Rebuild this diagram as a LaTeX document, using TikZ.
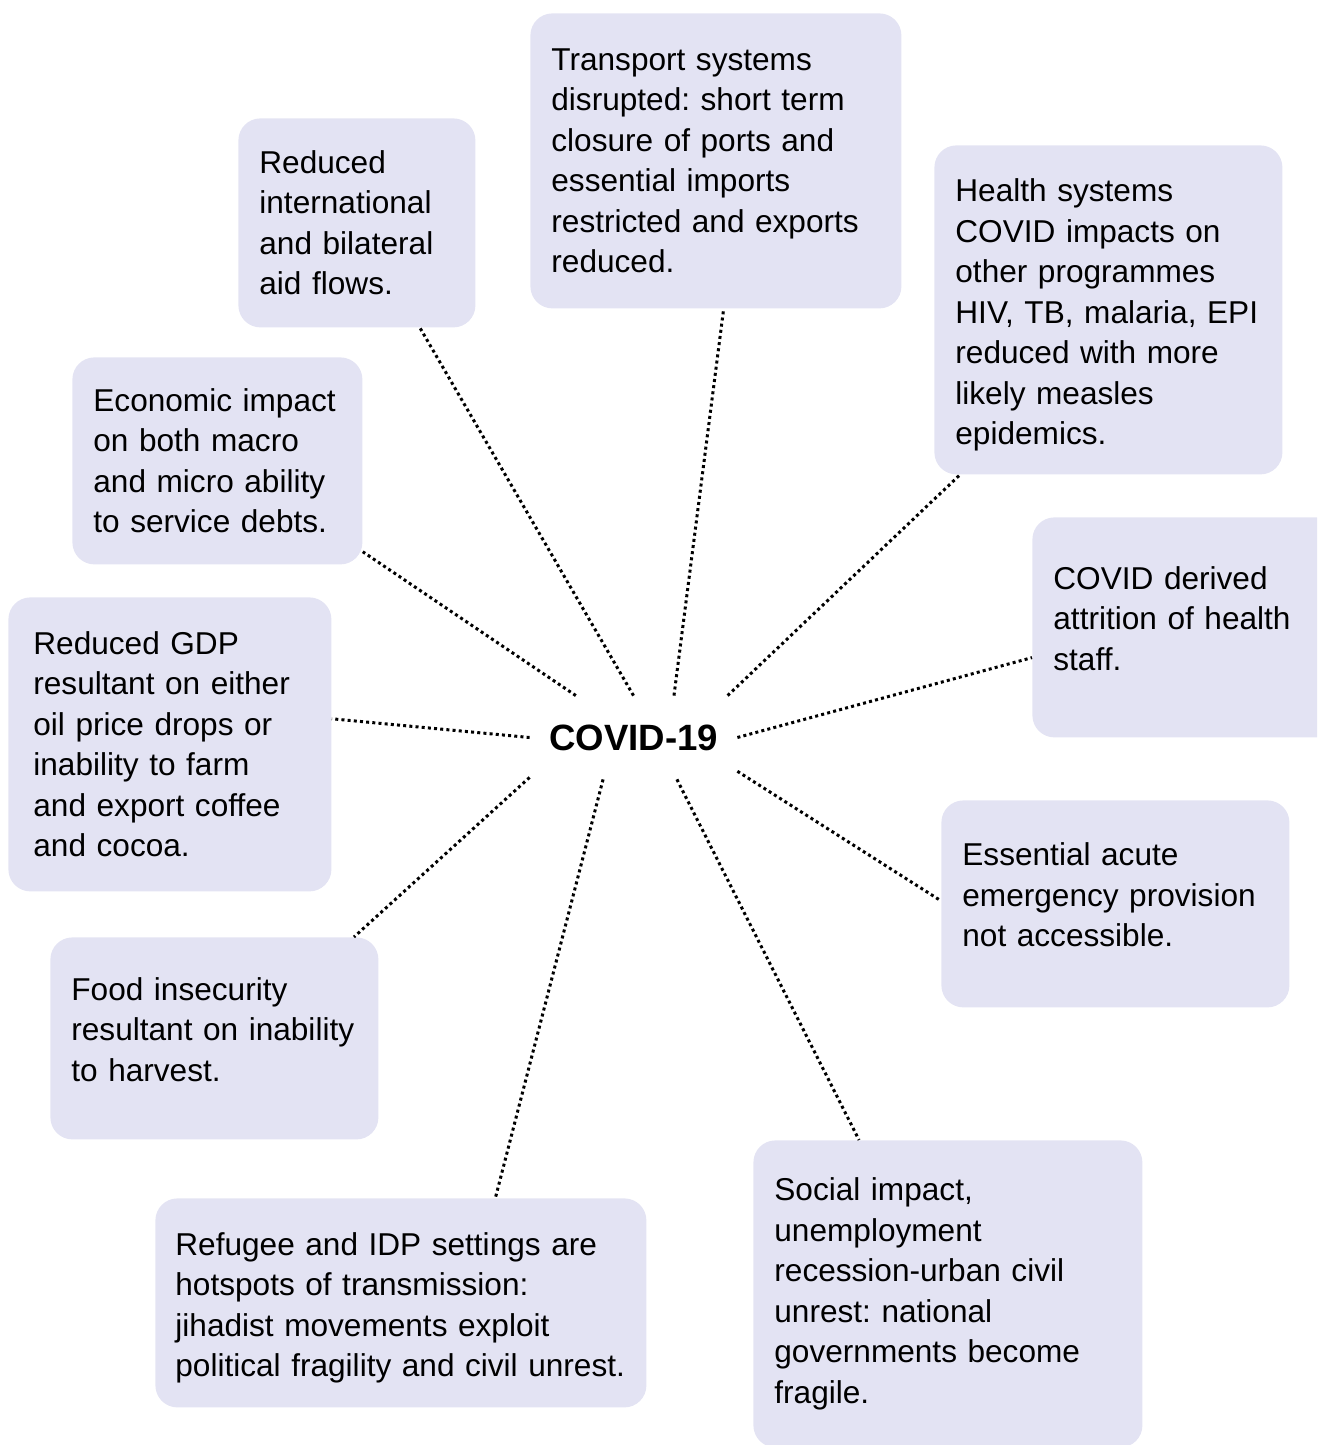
\documentclass[tikz,border=0pt]{standalone}
\usepackage{fontspec}
\setmainfont{Liberation Sans}
\frenchspacing
\hyphenpenalty=10000
\definecolor{cardfill}{RGB}{227,227,243}
\newcommand\lowpad{\rule[-9pt]{0pt}{9pt}}
\newcommand\toppad{\rule{0pt}{16.5pt}}
\tikzset{
	card/.style={rectangle, anchor=north west, rounded corners=11pt, fill=cardfill, align=left, inner xsep=10.5pt, inner ysep=0pt, font=\fontsize{15.8pt}{20.25pt}\selectfont},
	link/.style={line width=1.5pt, dash pattern=on 1.5pt off 1.6pt}
}
\begin{document}
\begin{tikzpicture}[x=0.5pt, y=-0.5pt]
	\useasboundingbox (0,0) rectangle (1317,1445);
	\clip (0,0) rectangle (1317,1445);
	
	% boxes, placed by their top left corner
	\node[card, minimum width=185.5pt, minimum height=147.5pt, text width=164.5pt] (trans) at (530,13)
		{Transport systems\\disrupted: short term\\closure of ports and\\essential imports\\restricted and exports\\reduced.};
	\node[card, minimum width=118.5pt, minimum height=104.5pt, text width=97.5pt] (aid) at (238,118)
		{Reduced\\international\\and bilateral\\aid flows.};
	\node[card, minimum width=174pt, minimum height=164.5pt, text width=153pt] (health) at (934,145)
		{\toppad Health systems\\COVID impacts on\\other programmes\\HIV, TB, malaria, EPI\\reduced with more\\likely measles\\epidemics.};
	\node[card, minimum width=145pt, minimum height=103.5pt, text width=124pt] (econ) at (72,357)
		{Economic impact\\on both macro\\and micro ability\\to service debts.};
	\node[card, minimum width=155pt, minimum height=110pt, text width=134pt] (staff) at (1032,517)
		{COVID derived\\attrition of health\\staff.\lowpad};
	\node[card, inner xsep=12.5pt, minimum width=161.5pt, minimum height=147pt, text width=136.5pt] (gdp) at (8,597)
		{Reduced GDP\\resultant on either\\oil price drops or\\inability to farm\\and export coffee\\and cocoa.};
	\node[card, minimum width=174pt, minimum height=103.5pt, text width=153pt] (acute) at (941,800)
		{Essential acute\\emergency provision\\not accessible.\lowpad};
	\node[card, minimum width=164pt, minimum height=101pt, text width=143pt] (food) at (50,937)
		{Food insecurity\\resultant on inability\\to harvest.\lowpad};
	\node[card, inner xsep=10pt, minimum width=245.5pt, minimum height=104.5pt, text width=225.5pt] (refugee) at (155,1198)
		{\toppad Refugee and IDP settings are\\hotspots of transmission:\\jihadist movements exploit\\political fragility and civil unrest.};
	\node[card, minimum width=194.5pt, minimum height=153.5pt, text width=173.5pt] (social) at (753,1140)
		{Social impact,\\unemployment\\recession-urban civil\\unrest: national\\governments become\\fragile.};
	
	% centre
	\node[minimum width=103.5pt, minimum height=41.5pt, inner sep=0pt, font=\fontsize{18.3pt}{21pt}\selectfont\bfseries] (covid) at (633.5,737.5) {COVID-19};
	
	\foreach \s/\t in {144/econ.328, 90/aid.301, 46/trans.273, 24/health.228, 180/gdp.9, 0/staff.191, 201/food.36, 234/refugee.48, 316/social.120, 342/acute.179}
		\draw[link] (covid.\s) -- (\t);
\end{tikzpicture}
\end{document}
